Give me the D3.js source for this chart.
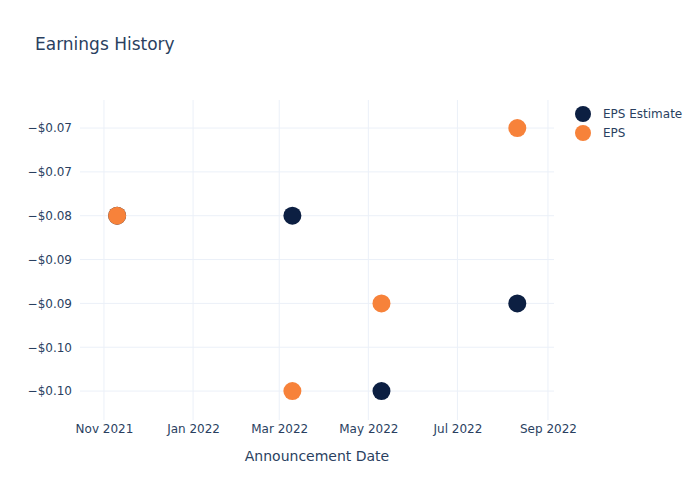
<!DOCTYPE html>
<html><head><meta charset="utf-8">
<script src="https://cdn.jsdelivr.net/npm/d3@7"></script>
<style>body{margin:0;background:#fff;} text{font-family:"DejaVu Sans",Verdana,sans-serif;}</style>
</head><body>
<svg id="c" width="700" height="500"></svg>
<script>
const dates = ["2021-11-10","2022-03-10","2022-05-10","2022-08-11"];
const epsEstimate = [-0.08, -0.08, -0.10, -0.09];
const eps = [-0.08, -0.10, -0.09, -0.07];
const yTicks = [-0.07, -0.075, -0.08, -0.085, -0.09, -0.095, -0.10];
const xTicks = ["2021-11-01","2022-01-01","2022-03-01","2022-05-01","2022-07-01","2022-09-01"];
const seriesNames = ["EPS Estimate","EPS"];
const colors = ["#0c1f42","#f7823a"];

const parse = d3.utcParse("%Y-%m-%d");
const svg = d3.select("#c");
const L=80, R=554, T=100, B=420;
const x = d3.scaleUtc().domain([new Date(Date.UTC(2021,9,15,14)), new Date(Date.UTC(2022,8,5,3))]).range([L,R]);
const y = d3.scaleLinear().domain([-0.1033,-0.0668]).range([B,T]);
const txt = "#2a3f5f", grid = "#ebf0f8";

// grid
svg.append("g").selectAll("line").data(yTicks).join("line")
  .attr("x1",L).attr("x2",R).attr("y1",d=>y(d)).attr("y2",d=>y(d)).attr("stroke",grid).attr("stroke-width",1);
svg.append("g").selectAll("line").data(xTicks).join("line")
  .attr("y1",T).attr("y2",B).attr("x1",d=>x(parse(d))).attr("x2",d=>x(parse(d))).attr("stroke",grid).attr("stroke-width",1);

// axes
const fmtY = d => "\u2212$" + Math.abs(d).toFixed(2);
const yAxis = d3.axisLeft(y).tickValues(yTicks).tickFormat(fmtY).tickSize(0).tickPadding(6);
const gy = svg.append("g").attr("transform",`translate(${L-2},0)`).call(yAxis);
gy.select(".domain").remove();
gy.selectAll("text").attr("fill",txt).style("font-size","12px");

const xAxis = d3.axisBottom(x).tickValues(xTicks.map(parse)).tickFormat(d3.utcFormat("%b %Y")).tickSize(0).tickPadding(4);
const gx = svg.append("g").attr("transform",`translate(0,${B})`).call(xAxis);
gx.select(".domain").remove();
gx.selectAll("text").attr("fill",txt).style("font-size","12px");

// points
[epsEstimate, eps].forEach((vals,i)=>{
  svg.append("g").selectAll("circle").data(vals).join("circle")
    .attr("cx",(d,j)=>x(parse(dates[j]))).attr("cy",d=>y(d)).attr("r",9)
    .attr("fill",colors[i]);
});

// title
svg.append("text").attr("x",35).attr("y",50).attr("fill",txt).style("font-size","17px").text("Earnings History");
svg.append("text").attr("x",(L+R)/2).attr("y",461).attr("text-anchor","middle").attr("fill",txt).style("font-size","14px").text("Announcement Date");

// legend
const lg = svg.append("g");
seriesNames.forEach((n,i)=>{
  lg.append("circle").attr("cx",583).attr("cy",114+i*19).attr("r",8).attr("fill",colors[i]);
  lg.append("text").attr("x",603).attr("y",118+i*19).attr("fill",txt).style("font-size","12px").text(n);
});
</script>
</body></html>
